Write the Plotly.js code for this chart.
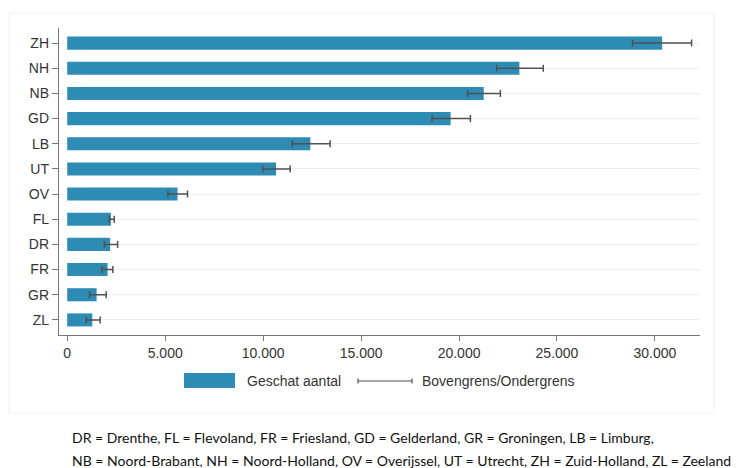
<!DOCTYPE html>
<html>
<head>
<meta charset="utf-8">
<script src="https://cdn.plot.ly/plotly-3.0.1.min.js"></script>
<style>
html,body{margin:0;padding:0;background:#fff;}
#chart{width:749px;height:468px;}
</style>
</head>
<body>
<div id="chart"></div>
<script>
// Provinces, bottom to top
var provinces = ["ZL", "GR", "FR", "DR", "FL", "OV", "UT", "LB", "GD", "NB", "NH", "ZH"];
var geschat   = [1280, 1500, 2060, 2190, 2230, 5630, 10660, 12410, 19570, 21260, 23080, 30370];
var ondergrens = [970, 1140, 1770, 1890, 2140, 5140, 9980, 11490, 18620, 20440, 21920, 28860];
var bovengrens = [1680, 1990, 2330, 2570, 2400, 6140, 11380, 13420, 20580, 22110, 24300, 31870];
var xTicks = [0, 5000, 10000, 15000, 20000, 25000, 30000];
var legendLabels = ["Geschat aantal", "Bovengrens/Ondergrens"];
var footnoteLines = [
  "DR = Drenthe, FL = Flevoland, FR = Friesland, GD = Gelderland, GR = Groningen, LB = Limburg,",
  "NB = Noord-Brabant, NH = Noord-Holland, OV = Overijssel, UT = Utrecht, ZH = Zuid-Holland, ZL = Zeeland"
];

var barColor = "#2e8bb3";
var errColor = "#505050";

var plus = geschat.map(function(v, i){ return bovengrens[i] - v; });
var minus = geschat.map(function(v, i){ return v - ondergrens[i]; });

var trace = {
  type: "bar",
  orientation: "h",
  y: provinces,
  x: geschat,
  width: 0.52,
  marker: {color: barColor, line: {width: 0}},
  error_x: {
    type: "data",
    symmetric: false,
    array: plus,
    arrayminus: minus,
    color: errColor,
    thickness: 1.5,
    width: 3.5
  },
  showlegend: false,
  hoverinfo: "x+y"
};

var font = "Liberation Sans, Arial, sans-serif";
var noteFont = "Lato, Liberation Sans, sans-serif";
var L = 59, R = 49, T = 28, B = 133;
var W = 749, H = 468;
var pw = W - L - R, ph = H - T - B;
function px(x){ return (x - L) / pw; }
function py(y){ return (H - B - y) / ph; }

var shapes = [
  // faint outer graph region frame
  {type: "rect", xref: "paper", yref: "paper",
   x0: px(9), x1: px(714), y0: py(413), y1: py(13),
   line: {color: "#f0f0f0", width: 1}, layer: "below"},
  // legend swatch
  {type: "rect", xref: "paper", yref: "paper",
   x0: px(184), x1: px(235), y0: py(388), y1: py(373),
   fillcolor: barColor, line: {width: 0}},
  // legend error bar symbol
  {type: "line", xref: "paper", yref: "paper",
   x0: px(358), x1: px(412), y0: py(381), y1: py(381),
   line: {color: errColor, width: 1.2}},
  {type: "line", xref: "paper", yref: "paper",
   x0: px(358), x1: px(358), y0: py(378.5), y1: py(383.5),
   line: {color: errColor, width: 1.2}},
  {type: "line", xref: "paper", yref: "paper",
   x0: px(412), x1: px(412), y0: py(378.5), y1: py(383.5),
   line: {color: errColor, width: 1.2}}
];

var annotations = [
  {xref: "paper", yref: "paper", x: px(245), y: py(381), xanchor: "left", yanchor: "middle",
   text: legendLabels[0], showarrow: false, font: {family: font, size: 14, color: "#333"}},
  {xref: "paper", yref: "paper", x: px(420), y: py(381), xanchor: "left", yanchor: "middle",
   text: legendLabels[1], showarrow: false, font: {family: font, size: 14, color: "#333"}},
  {xref: "paper", yref: "paper", x: px(70), y: py(437), xanchor: "left", yanchor: "middle",
   text: footnoteLines[0], showarrow: false, font: {family: noteFont, size: 14, color: "#111"}},
  {xref: "paper", yref: "paper", x: px(70), y: py(460), xanchor: "left", yanchor: "middle",
   text: footnoteLines[1], showarrow: false, font: {family: noteFont, size: 14, color: "#111"}}
];

var layout = {
  width: W, height: H,
  margin: {l: L, r: R, t: T, b: B, pad: 0},
  paper_bgcolor: "#ffffff",
  plot_bgcolor: "#ffffff",
  separators: ",.",
  showlegend: false,
  font: {family: font, size: 14, color: "#333"},
  xaxis: {
    range: [-420, 32300],
    tickvals: xTicks,
    tickformat: ",d",
    showgrid: false,
    zeroline: false,
    showline: true,
    linecolor: "#777",
    linewidth: 1.2,
    ticks: "outside",
    ticklen: 5,
    tickcolor: "#777",
    tickfont: {family: font, size: 14, color: "#333"}
  },
  yaxis: {
    type: "category",
    categoryorder: "array",
    categoryarray: provinces,
    range: [-0.6, 11.6],
    showgrid: true,
    gridcolor: "#eeeeee",
    gridwidth: 1,
    zeroline: false,
    showline: true,
    linecolor: "#777",
    linewidth: 1.2,
    ticks: "outside",
    ticklen: 6,
    tickcolor: "#777",
    tickfont: {family: font, size: 14, color: "#333"}
  },
  shapes: shapes,
  annotations: annotations
};

Plotly.newPlot("chart", [trace], layout, {staticPlot: true, displayModeBar: false});
</script>
</body>
</html>
